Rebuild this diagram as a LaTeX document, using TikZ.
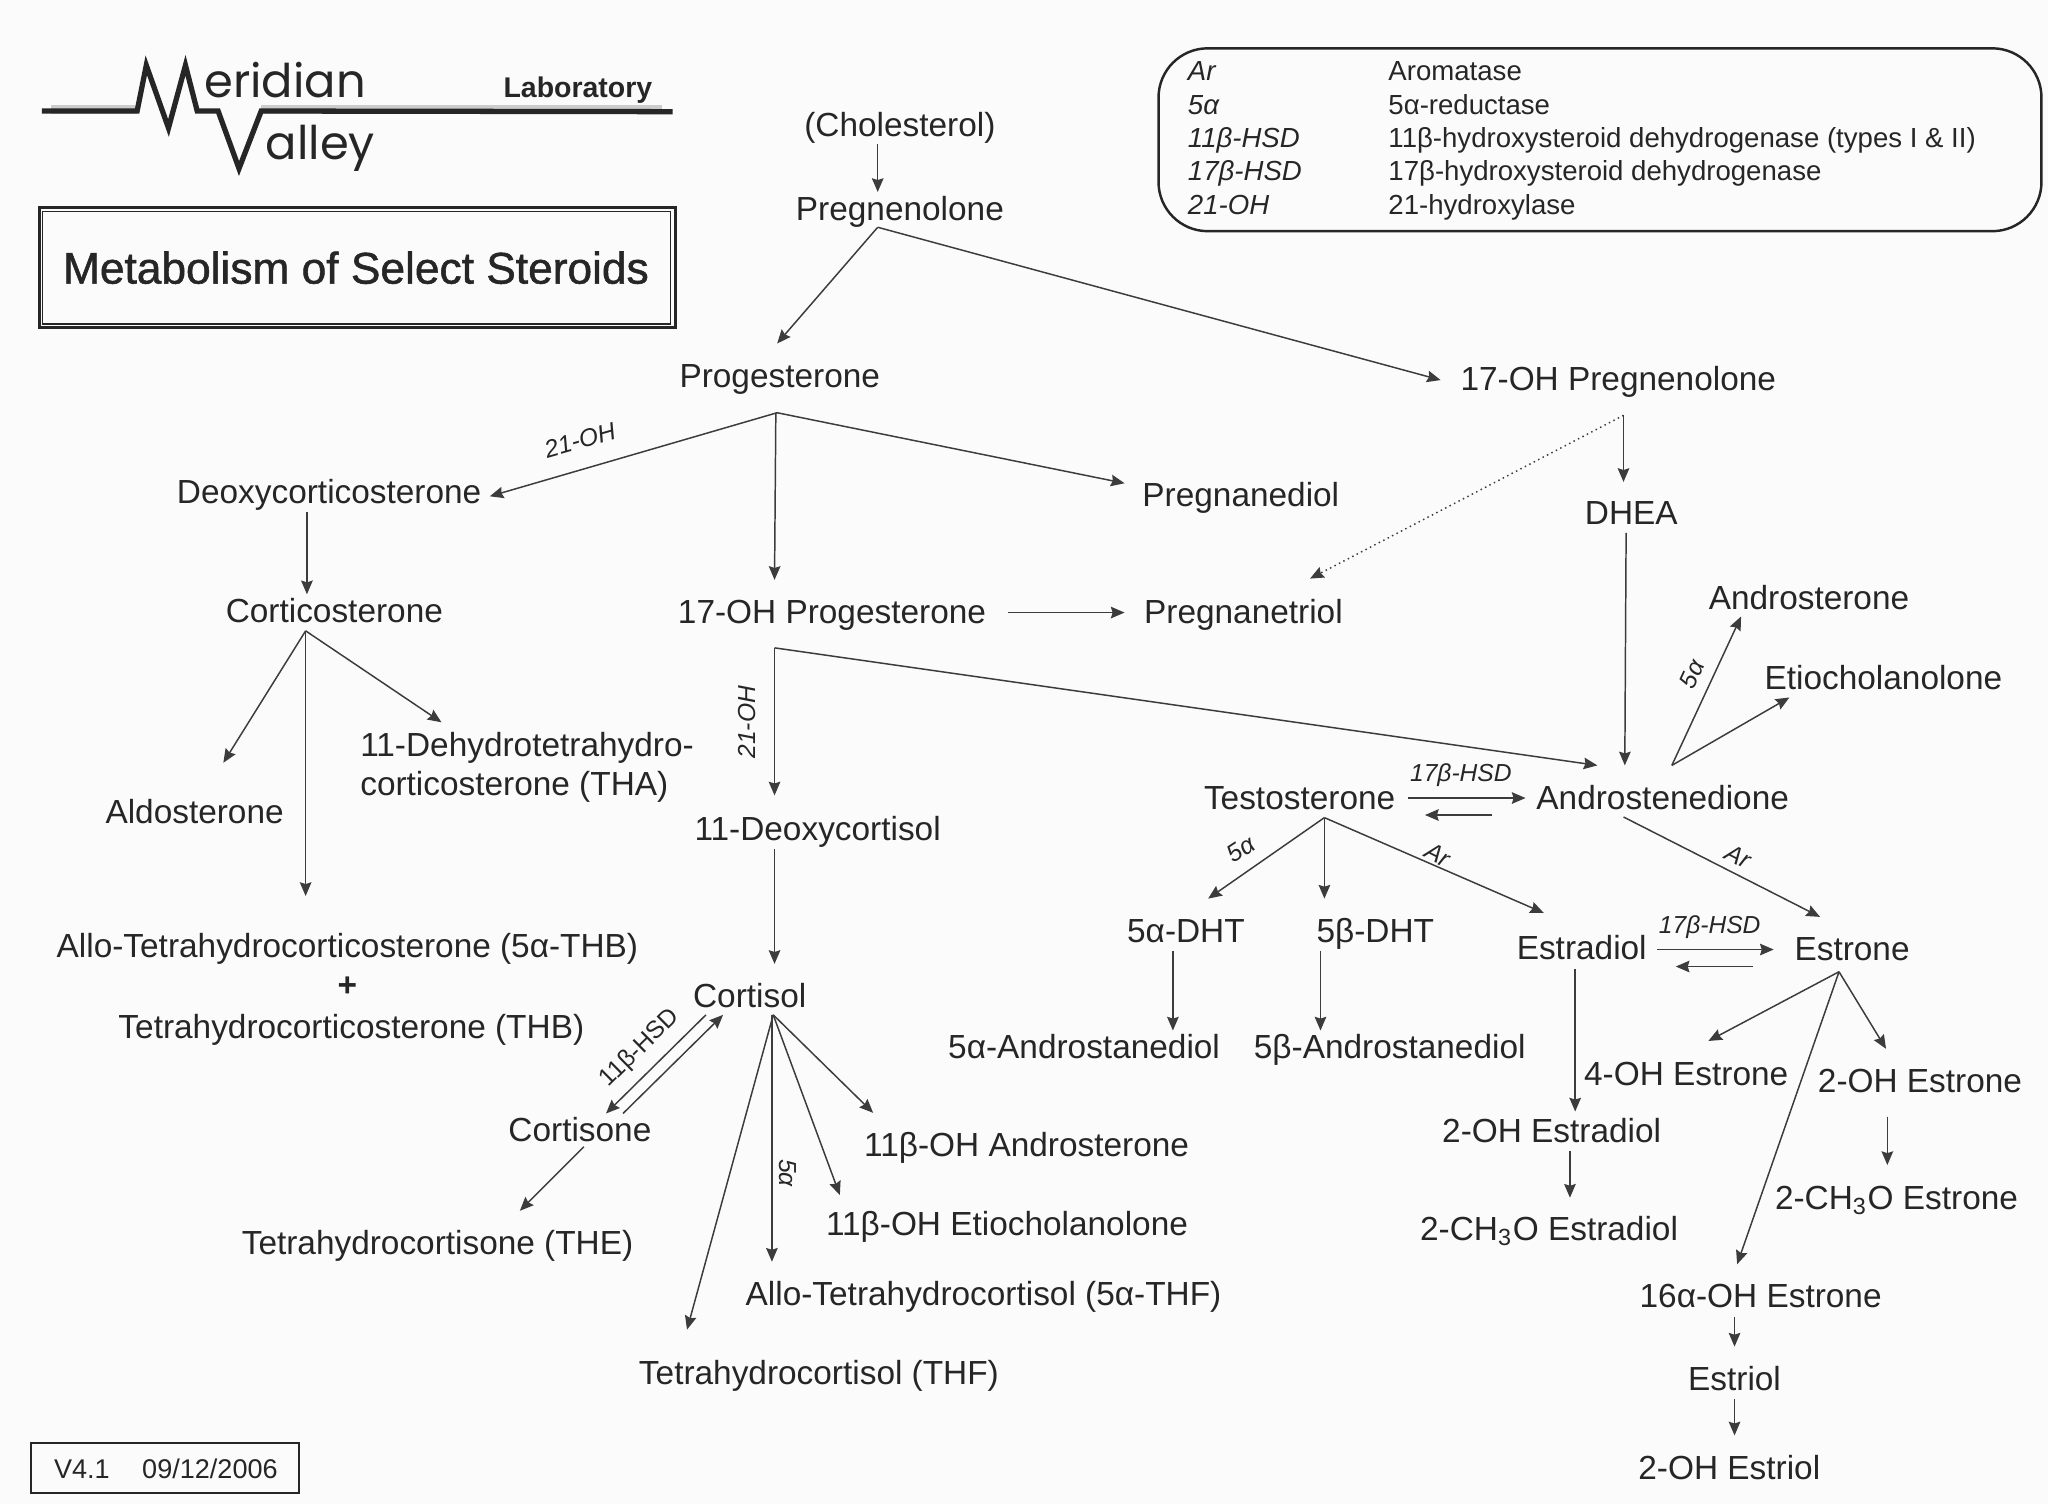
\documentclass[tikz,border=0pt]{standalone}
\usepackage{fontspec}
\setmainfont{Liberation Sans}
\newfontfamily\logofont{Poppins}
\newfontfamily\titlefont[FakeBold=1.2]{Liberation Sans}
\usetikzlibrary{arrows.meta}
\definecolor{ink}{HTML}{262626}
\definecolor{paper}{HTML}{FBFBFB}
\newcommand{\lnk}[5][]{\draw[arr,#1] ([shift={(#3)}]#2.center) -- ([shift={(#5)}]#4.center);}
\tikzset{
  x=0.013061cm,y=-0.013061cm,
  lbl/.style={inner sep=0pt,text=ink,font=\fontsize{9.5}{11}\selectfont,text height=8.5pt,text depth=2pt,anchor=center},
  arr/.style={draw=ink!90,line width=0.42pt,-{Stealth[length=3.9pt,width=3.3pt,inset=0.5pt]}},
  tag/.style={inner sep=0pt,text=ink,font=\fontsize{7}{8}\selectfont\itshape,anchor=center},
  tagup/.style={inner sep=0pt,text=ink,font=\fontsize{7}{8}\selectfont,anchor=center},
  keyl/.style={inner sep=0pt,text=ink,font=\fontsize{7.85}{9}\selectfont\itshape,anchor=base west},
  keyr/.style={inner sep=0pt,text=ink,font=\fontsize{7.85}{9}\selectfont,anchor=base west},
  framebox/.style={draw=ink,line width=0.6pt}
}
\begin{document}
\begin{tikzpicture}
\useasboundingbox (0,0) rectangle (1568,1151.5);
\fill[paper] (0,0) rectangle (1568,1151.5);
% logo
\draw[gray!40,line width=2.6pt] (39,84)--(105,84) (200,84)--(507,84);
\draw[ink,line width=1.5pt,line join=miter,miter limit=10] (32,85)--(105,85)--(112,50)--(129,98)--(142,50)--(151,85)--(167,85)--(183,129)--(200,85)--(515,85.5);
\node[inner sep=0pt,anchor=base west,text=ink,font=\logofont\fontsize{13.2}{15}\selectfont] (logoa) at (156,74.5) {eridian};
\node[inner sep=0pt,anchor=base west,text=ink,font=\logofont\fontsize{13.2}{15}\selectfont] (logob) at (203,122.5) {alley};
\node[inner sep=0pt,anchor=base west,text=ink,font=\bfseries\fontsize{8.1}{9}\selectfont] (logoc) at (385,74.5) {Laboratory};
% title
\draw[framebox,line width=0.8pt] (30,159) rectangle (517,251);
\node[framebox,line width=0.4pt,inner sep=0pt] (titlebox) at (273,205) {\tikz{\path (0,0) rectangle (481,86);}};
\node[inner sep=0pt,text=ink,font=\titlefont\fontsize{12.6}{15}\selectfont] (title) at (272.5,205) {Metabolism of Select Steroids};
% legend
\node[draw=ink,line width=0.7pt,rounded corners=14pt,inner sep=0pt] (legend) at (1225,107) {\tikz{\path (0,0) rectangle (676,140);}};
\node[keyl] (k1) at (909,62) {Ar};
\node[keyl] (k2) at (909,88) {5α};
\node[keyl] (k3) at (909,113) {11β-HSD};
\node[keyl] (k4) at (909,138) {17β-HSD};
\node[keyl] (k5) at (909,164) {21-OH};
\node[keyr] (v1) at (1062.5,62) {Aromatase};
\node[keyr] (v2) at (1062.5,88) {5α-reductase};
\node[keyr] (v3) at (1062.5,113) {11β-hydroxysteroid dehydrogenase (types I \& II)};
\node[keyr] (v4) at (1062.5,138) {17β-hydroxysteroid dehydrogenase};
\node[keyr] (v5) at (1062.5,164) {21-hydroxylase};
% version
\node[draw=ink,line width=0.5pt,inner sep=0pt] (verbox) at (126.5,1124) {\tikz{\path (0,0) rectangle (205,38);}};
\node[inner sep=0pt,text=ink,font=\fontsize{7.7}{9}\selectfont] (ver) at (127,1124.5) {V4.1\hspace{1.2em}09/12/2006};
% compounds
\node[lbl] (chol) at (689,96) {(Cholesterol)};
\node[lbl] (preg) at (689,160) {Pregnenolone};
\node[lbl] (prog) at (597,288) {Progesterone};
\node[lbl] (ohpreg) at (1239,290) {17-OH Pregnenolone};
\node[lbl] (doc) at (252,377) {Deoxycorticosterone};
\node[lbl] (pgd) at (950,379) {Pregnanediol};
\node[lbl] (dhea) at (1249,393) {DHEA};
\node[lbl] (cort) at (256,468) {Corticosterone};
\node[lbl] (ohprog) at (637,469) {17-OH Progesterone};
\node[lbl] (pgt) at (952,469) {Pregnanetriol};
\node[lbl] (andro) at (1385,458) {Androsterone};
\node[lbl] (etio) at (1442,519) {Etiocholanolone};
\node[inner sep=0pt,text=ink,font=\fontsize{9.5}{11.1}\selectfont,align=left,anchor=center] (tha) at (403.5,587.5) {11-Dehydrotetrahydro-\\corticosterone (THA)};
\node[lbl] (aldo) at (149,622) {Aldosterone};
\node[lbl] (deox) at (626,635) {11-Deoxycortisol};
\node[lbl] (testo) at (995,611) {Testosterone};
\node[lbl] (adione) at (1273,611) {Androstenedione};
\node[lbl] (adht) at (908,713) {5α-DHT};
\node[lbl] (bdht) at (1053,713) {5β-DHT};
\node[lbl] (e2) at (1211,726) {Estradiol};
\node[lbl] (e1) at (1418,727) {Estrone};
\node[lbl] (athb) at (266,724) {Allo-Tetrahydrocorticosterone (5α-THB)};
\node[lbl,font=\bfseries\fontsize{9.5}{11}\selectfont] (plus) at (266,754) {+};
\node[lbl] (thb) at (269,786) {Tetrahydrocorticosterone (THB)};
\node[lbl] (cortisol) at (574,763) {Cortisol};
\node[lbl] (adiol) at (830,802) {5α-Androstanediol};
\node[lbl] (bdiol) at (1064,802) {5β-Androstanediol};
\node[lbl] (oh4) at (1291,822) {4-OH Estrone};
\node[lbl] (oh2) at (1470,828) {2-OH Estrone};
\node[lbl] (cortisone) at (444,865) {Cortisone};
\node[lbl] (oh2e2) at (1188,866) {2-OH Estradiol};
\node[lbl] (ohandro) at (786,877) {11β-OH Androsterone};
\node[lbl] (ch3oe1) at (1452,917) {2-CH\textsubscript{3}O Estrone};
\node[lbl] (the) at (335,952) {Tetrahydrocortisone (THE)};
\node[lbl] (ohetio) at (771,937) {11β-OH Etiocholanolone};
\node[lbl] (ch3oe2) at (1186,941) {2-CH\textsubscript{3}O Estradiol};
\node[lbl] (athf) at (753,991) {Allo-Tetrahydrocortisol (5α-THF)};
\node[lbl] (oh16) at (1348,992) {16α-OH Estrone};
\node[lbl] (thf) at (627,1051) {Tetrahydrocortisol (THF)};
\node[lbl] (estriol) at (1328,1056) {Estriol};
\node[lbl] (oh2e3) at (1324,1124) {2-OH Estriol};
% connectors
\lnk{chol}{-17,14}{preg}{-17,-13}
\lnk{preg}{-17,14}{prog}{-2,-25}
\lnk{preg}{-17,14}{ohpreg}{-136,1}
\lnk{prog}{-2,28}{doc}{123,3}
\lnk{prog}{-3,28}{ohprog}{-44,-25}
\lnk{prog}{-2,28}{pgd}{-89,-9}
\lnk{ohpreg}{4,28}{dhea}{-6,-24}
\lnk[densely dotted]{ohpreg}{4,28}{pgt}{51,-26}
\lnk{dhea}{-4,15}{adione}{-29,-25}
\lnk{doc}{-17,15}{cort}{-21,-13}
\lnk{cort}{-22,15}{aldo}{22,-38}
\lnk{cort}{-22,15}{tha}{-65.5,-34.5}
\lnk{cort}{-22,15}{athb}{-32,-38}
\lnk{ohprog}{135,0}{pgt}{-91,0}
\lnk{ohprog}{-44,27}{adione}{-50,-25}
\lnk{ohprog}{-44,27}{deox}{-33,-26}
\lnk{deox}{-33,15}{cortisol}{19,-25}
\lnk{testo}{83,0}{adione}{-105,0}
\lnk{adione}{-131,13}{testo}{96,13}
\lnk{adione}{7,-25}{andro}{-52,14}
\lnk{adione}{7,-25}{etio}{-72,15}
\lnk{adione}{-30,14.5}{e1}{-24.5,-25}
\lnk{testo}{19,15}{adht}{17,-25}
\lnk{testo}{19,15}{bdht}{-39,-25}
\lnk{testo}{19,15}{e2}{-29,-27}
\lnk{adht}{-10,15}{adiol}{68,-13}
\lnk{bdht}{-42,15}{bdiol}{-53,-13}
\lnk{e2}{-5,16}{oh2e2}{18,-15}
\lnk{oh2e2}{14,15}{ch3oe2}{16,-24}
\lnk{e2}{58,1}{e1}{-60,0}
\lnk{e1}{-76,13}{e2}{72,14}
\lnk{e1}{-10,17}{oh4}{17,-25}
\lnk{e1}{-10,17}{oh2}{-26,-25}
\lnk{e1}{-10,17}{oh16}{-18,-24}
\lnk{oh2}{-25,27}{ch3oe1}{-7,-25}
\lnk{oh16}{-20,16}{estriol}{0,-25}
\lnk{estriol}{0,15}{oh2e3}{4,-25}
\lnk{cortisone}{33,-12.5}{cortisol}{-20.4,14}
\lnk{cortisol}{-33.5,14}{cortisone}{20,-12.5}
\lnk{cortisone}{3,13}{the}{63,-25}
\lnk{cortisol}{18,14}{ohandro}{-117.5,-25}
\lnk{cortisol}{18,14}{ohetio}{-128,-22}
\lnk{cortisol}{17,14}{athf}{-162,-25}
\lnk{cortisol}{18,14}{thf}{-101,-33}
% enzyme labels
\node[tag,rotate=16] (t1) at (444,337) {21-OH};
\node[tag,rotate=90] (t2) at (572,553) {21-OH};
\node[tag] (t3) at (1118.5,593.5) {17β-HSD};
\node[tag,rotate=65] (t4) at (1295.5,516) {5α};
\node[tag,rotate=-27] (t5) at (1331,655.5) {Ar};
\node[tag,rotate=33] (t6) at (950,650) {5α};
\node[tag,rotate=-27] (t7) at (1101,654.5) {Ar};
\node[tag] (t8) at (1309,709.5) {17β-HSD};
\node[tagup,rotate=44.6] (t9) at (490,802.6) {11β-HSD};
\node[tag,rotate=-90] (t10) at (603.5,898) {5α};
\end{tikzpicture}
\end{document}
